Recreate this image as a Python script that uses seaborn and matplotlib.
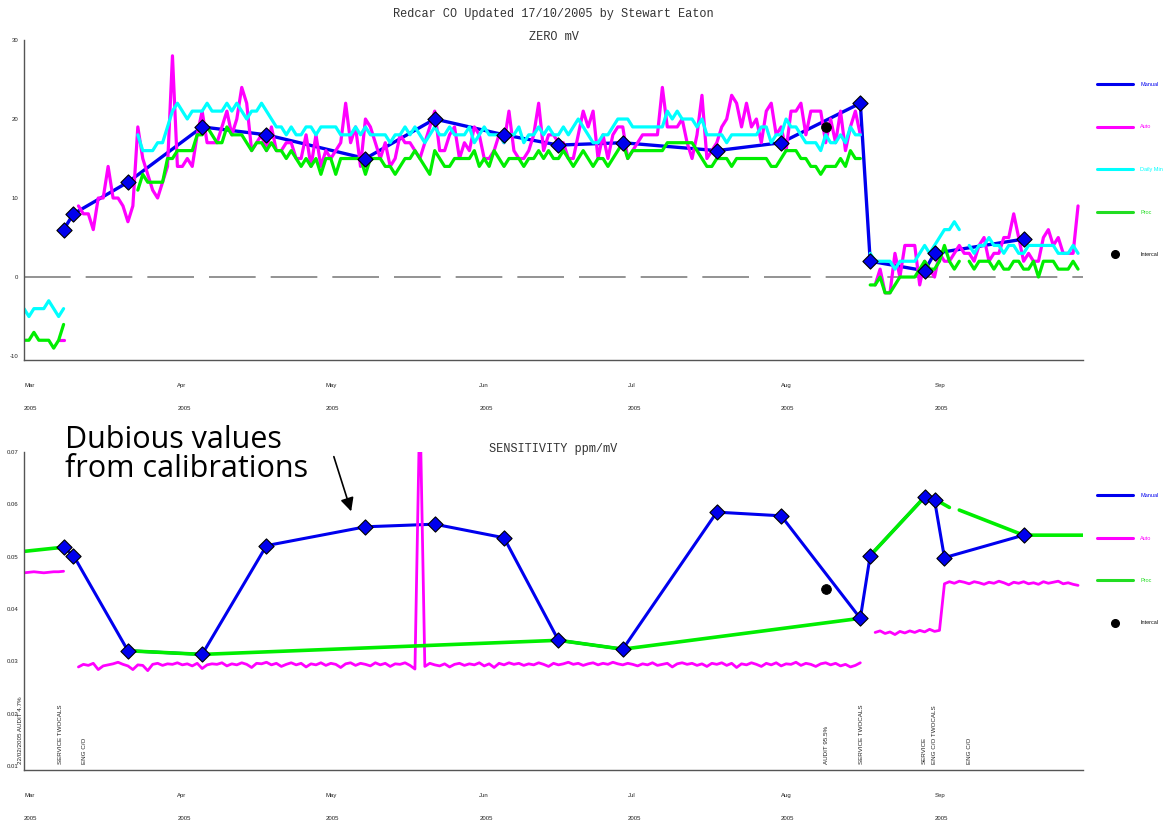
import pandas as pd
import matplotlib
matplotlib.use('Agg')
import matplotlib.pyplot as plt
from matplotlib.lines import Line2D
import seaborn as sns

BLUE = '#0000ee'
MAGENTA = '#ff00ff'
CYAN = '#00ffff'
GREEN = '#00ee00'

# ---------------- ZERO mV ----------------
zero_manual_dates = ['2005-03-09', '2005-03-11', '2005-03-22', '2005-04-06', '2005-04-19', '2005-05-09',
                     '2005-05-23', '2005-06-06', '2005-06-17', '2005-06-30', '2005-07-19', '2005-08-01',
                     '2005-08-17', '2005-08-19', '2005-08-30', '2005-09-01', '2005-09-19']
zero_manual = [6, 8, 12, 19, 18, 15, 20, 18, 16.7, 17, 16, 17, 22, 2, 0.8, 3, 4.8]
zero_intercal_dates = ['2005-08-10']
zero_intercal = [19]

# daily values, one (first day, values) pair per unbroken run
zero_auto = [
    ('2005-03-08', [-8, -8]),
    ('2005-03-12', [9, 8, 8, 6, 10, 10, 14, 10, 10, 9, 7, 9, 19, 15, 13, 11, 10, 12, 14, 28,
                    14, 14, 15, 14, 18, 21, 17, 17, 17, 19, 21, 18, 20, 24, 22, 16, 17, 18, 16, 19,
                    16, 16, 17, 17, 15, 15, 18, 14, 18, 14, 16, 15, 16, 17, 22, 17, 19, 14, 20, 19,
                    17, 15, 17, 14, 15, 18, 17, 17, 16, 15, 17, 19, 21, 16, 16, 18, 19, 15, 17, 16,
                    19, 18, 15, 15, 16, 18, 17, 21, 16, 15, 15, 16, 18, 22, 16, 18, 18, 17, 17, 15,
                    15, 18, 21, 19, 21, 15, 18, 15, 18, 19, 19, 15, 16, 17, 18, 18, 18, 18, 24, 19,
                    19, 19, 20, 17, 15, 18, 23, 15, 16, 17, 19, 20, 23, 22, 19, 22, 19, 20, 17, 21,
                    22, 18, 19, 16, 21, 21, 22, 18, 21, 21, 21, 17, 20, 17, 21, 16, 19, 21, 18]),
    ('2005-08-20', [-1, 1, -2, -2, 3, 0, 4, 4, 4, -1, 2, 1, 0, 3, 2, 2, 3, 4, 3, 3,
                    2, 4, 5, 2, 3, 3, 5, 5, 8, 5, 2, 3, 2, 2, 5, 6, 4, 5, 3, 3, 3, 9]),
]
zero_dailymin = [
    ('2005-03-01', [-4, -5, -4, -4, -4, -3, -4, -5, -4]),
    ('2005-03-24', [18, 16, 16, 16, 17, 17, 19, 21, 22, 21, 20, 21, 21, 21, 22, 21, 21, 21, 22, 21,
                    22, 21, 20, 21, 21, 22, 21, 20, 19, 19, 18, 19, 18, 18, 19, 19, 18, 19, 19, 19,
                    19, 18, 18, 18, 19, 18, 19, 18, 18, 18, 18, 17, 18, 18, 19, 18, 19, 18, 17, 18,
                    19, 18, 18, 19, 18, 18, 18, 19, 17, 18, 19, 18, 18, 18, 17, 18, 18, 19, 17, 18,
                    18, 19, 18, 19, 18, 18, 19, 18, 19, 20, 19, 18, 17, 17, 18, 18, 19, 20, 20, 20,
                    19, 19, 19, 19, 19, 19, 19, 21, 20, 21, 20, 20, 20, 19, 20, 18, 18, 18, 18, 17,
                    18, 18, 18, 18, 18, 18, 19, 19, 17, 18, 18, 20, 19, 19, 18, 17, 17, 17, 16, 18,
                    17, 17, 18, 17, 19, 18, 18]),
    ('2005-08-19', [3, 2, 2, 2, 2, 1, 2, 2, 2, 2, 3, 4, 3, 4, 5, 6, 6, 7, 6]),
    ('2005-09-08', [4, 3, 4, 4, 5, 4, 4, 3, 4, 4, 3, 3, 4, 4, 4, 4, 4, 4, 3, 3, 3, 4, 3]),
]
zero_proc = [
    ('2005-03-01', [-8, -8, -7, -8, -8, -8, -9, -8, -6]),
    ('2005-03-24', [11, 13, 12, 12, 12, 12, 15, 15, 16, 16, 16, 16, 18, 18, 19, 18, 17, 17, 19, 18,
                    18, 18, 17, 16, 17, 17, 16, 17, 16, 16, 15, 16, 15, 14, 15, 14, 15, 13, 15, 15,
                    13, 15, 15, 15, 15, 15, 13, 15, 15, 15, 14, 14, 13, 14, 15, 15, 16, 15, 14, 13,
                    16, 15, 14, 14, 15, 15, 15, 15, 16, 14, 15, 14, 16, 15, 14, 15, 15, 15, 14, 15,
                    15, 16, 15, 16, 15, 15, 16, 15, 14, 15, 16, 15, 14, 15, 15, 14, 15, 16, 17, 15,
                    16, 16, 16, 16, 16, 16, 16, 17, 17, 17, 17, 17, 17, 16, 15, 14, 14, 15, 15, 15,
                    14, 15, 15, 15, 15, 15, 15, 15, 14, 14, 15, 16, 16, 16, 15, 15, 14, 14, 13, 14,
                    14, 14, 15, 14, 16, 15, 15]),
    ('2005-08-19', [-1, -1, 0, -2, -2, -1, 0, 0, 0, 0, 1, 2, 1, 1, 2, 4, 2, 1, 2]),
    ('2005-09-08', [2, 1, 2, 2, 2, 1, 2, 1, 1, 2, 2, 1, 1, 2, 0, 2, 2, 2, 1, 1, 1, 2, 1]),
]

# ---------------- SENSITIVITY ppm/mV ----------------
sens_manual_dates = ['2005-03-09', '2005-03-11', '2005-03-22', '2005-04-06', '2005-04-19', '2005-05-09',
                     '2005-05-23', '2005-06-06', '2005-06-17', '2005-06-30', '2005-07-19', '2005-08-01',
                     '2005-08-17', '2005-08-19', '2005-08-30', '2005-09-01', '2005-09-03', '2005-09-19']
sens_manual = [0.0518, 0.0502, 0.0320, 0.0313, 0.0521, 0.0557, 0.0562, 0.0536, 0.0340, 0.0323,
               0.0585, 0.0578, 0.0382, 0.0502, 0.0614, 0.0608, 0.0498, 0.0541]
sens_intercal_dates = ['2005-08-10']
sens_intercal = [0.0438]
sens_auto = [
    ('2005-03-01', [0.0469, 0.0470, 0.0471, 0.0470, 0.0469, 0.0470, 0.0471, 0.0471, 0.0472]),
    ('2005-03-12', [0.0289, 0.0294, 0.0292, 0.0296, 0.0284, 0.0291, 0.0293, 0.0295, 0.0298, 0.0294,
                    0.0291, 0.0284, 0.0293, 0.0292, 0.0282, 0.0294, 0.0296, 0.0292, 0.0295, 0.0294,
                    0.0297, 0.0293, 0.0295, 0.0291, 0.0296, 0.0286, 0.0293, 0.0295, 0.0294, 0.0297,
                    0.0291, 0.0295, 0.0293, 0.0297, 0.0294, 0.0288, 0.0296, 0.0295, 0.0298, 0.0293,
                    0.0296, 0.0290, 0.0294, 0.0297, 0.0293, 0.0296, 0.0289, 0.0295, 0.0293, 0.0297,
                    0.0292, 0.0296, 0.0294, 0.0288, 0.0295, 0.0297, 0.0292, 0.0296, 0.0294, 0.0291,
                    0.0297, 0.0293, 0.0296, 0.0290, 0.0295, 0.0294, 0.0297, 0.0292, 0.0285, 0.0800,
                    0.0290, 0.0296, 0.0293, 0.0291, 0.0295, 0.0289, 0.0294, 0.0296, 0.0292, 0.0295,
                    0.0293, 0.0297, 0.0291, 0.0295, 0.0288, 0.0296, 0.0293, 0.0297, 0.0294, 0.0296,
                    0.0292, 0.0295, 0.0293, 0.0297, 0.0294, 0.0290, 0.0296, 0.0293, 0.0295, 0.0298,
                    0.0294, 0.0296, 0.0292, 0.0295, 0.0297, 0.0293, 0.0296, 0.0294, 0.0298, 0.0295,
                    0.0293, 0.0296, 0.0294, 0.0291, 0.0295, 0.0293, 0.0297, 0.0292, 0.0294, 0.0296,
                    0.0289, 0.0295, 0.0297, 0.0294, 0.0296, 0.0292, 0.0295, 0.0290, 0.0296, 0.0294,
                    0.0297, 0.0292, 0.0296, 0.0288, 0.0295, 0.0293, 0.0297, 0.0294, 0.0290, 0.0296,
                    0.0293, 0.0297, 0.0291, 0.0295, 0.0294, 0.0298, 0.0292, 0.0296, 0.0294, 0.0290,
                    0.0295, 0.0297, 0.0293, 0.0296, 0.0291, 0.0294, 0.0289, 0.0292, 0.0297]),
    ('2005-08-20', [0.0355, 0.0358, 0.0353, 0.0356, 0.0351, 0.0357, 0.0354, 0.0358, 0.0355, 0.0359,
                    0.0356, 0.0361, 0.0357, 0.0359,
                    0.0448, 0.0452, 0.0449, 0.0453, 0.0451, 0.0448, 0.0452, 0.0450, 0.0447, 0.0451,
                    0.0449, 0.0453, 0.0450, 0.0446, 0.0451, 0.0449, 0.0452, 0.0448, 0.0450, 0.0447,
                    0.0452, 0.0449, 0.0451, 0.0453, 0.0448, 0.0450, 0.0447, 0.0445]),
]
# processed sensitivity: straight runs between calibration days
sens_proc = [
    (['2005-03-01', '2005-03-09'], [0.0510, 0.0518]),
    (['2005-03-22', '2005-04-06', '2005-06-17', '2005-06-30', '2005-08-17'], [0.0320, 0.0313, 0.0340, 0.0323, 0.0382]),
    (['2005-08-19', '2005-08-30', '2005-09-01', '2005-09-04'], [0.0502, 0.0614, 0.0610, 0.0594]),
    (['2005-09-06', '2005-09-19', '2005-10-01'], [0.0589, 0.0541, 0.0541]),
]

event_dates = ['2005-02-28 05:00', '2005-03-08 07:00', '2005-03-13 07:00', '2005-08-10 05:00',
               '2005-08-17 05:00', '2005-08-30 00:00', '2005-09-01 00:00', '2005-09-08 02:00']
event_labels = ['22/02/2005 AUDIT 4.7%', 'SERVICE TWOCALS', 'ENG C/O', 'AUDIT 95.5%',
                'SERVICE TWOCALS', 'SERVICE', 'ENG C/O TWOCALS', 'ENG C/O']

month_ticks = ['2005-03-01', '2005-04-01', '2005-05-01', '2005-06-01', '2005-07-01', '2005-08-01', '2005-09-01']
month_labels = ['Mar\n2005', 'Apr\n2005', 'May\n2005', 'Jun\n2005', 'Jul\n2005', 'Aug\n2005', 'Sep\n2005']
zero_yticks = [-10, 0, 10, 20, 30]
sens_yticks = [0.01, 0.02, 0.03, 0.04, 0.05, 0.06, 0.07]


def daily_runs(runs):
    frames = []
    for i, (start, vals) in enumerate(runs):
        frames.append(pd.DataFrame({'date': pd.date_range(start, periods=len(vals), freq='D'),
                                    'value': vals, 'run': i}))
    return pd.concat(frames, ignore_index=True)


def dated_runs(runs):
    frames = []
    for i, (dates, vals) in enumerate(runs):
        frames.append(pd.DataFrame({'date': pd.to_datetime(dates), 'value': vals, 'run': i}))
    return pd.concat(frames, ignore_index=True)


def draw_runs(ax, df, color, lw):
    sns.lineplot(data=df, x='date', y='value', units='run', estimator=None, sort=False,
                 color=color, lw=lw, ax=ax, legend=False)


def draw_manual(ax, dates, vals, lw):
    df = pd.DataFrame({'date': pd.to_datetime(dates), 'value': vals})
    sns.lineplot(data=df, x='date', y='value', color=BLUE, lw=lw, ax=ax, zorder=2)
    return df


def draw_points(ax, man_df, ic_dates, ic_vals):
    sns.scatterplot(data=man_df, x='date', y='value', marker='D', s=60, color=BLUE,
                    edgecolor='black', linewidth=0.8, ax=ax, zorder=6, legend=False)
    ic = pd.DataFrame({'date': pd.to_datetime(ic_dates), 'value': ic_vals})
    sns.scatterplot(data=ic, x='date', y='value', s=50, color='black', edgecolor='black',
                    ax=ax, zorder=6, legend=False)


def style_axis(ax, ylim, yticks, ylabels):
    ax.set_xlim(pd.Timestamp('2005-03-01'), pd.Timestamp('2005-10-01'))
    ax.set_ylim(*ylim)
    ax.set_xticks(pd.to_datetime(month_ticks))
    ax.set_xticklabels(month_labels, ha='left', fontsize=4.3, color='#222222', linespacing=5.6)
    ax.set_yticks(yticks)
    ax.set_yticklabels(ylabels, fontsize=4.3, color='#222222')
    ax.tick_params(axis='x', length=6, width=1, color='#333333', pad=10.5)
    ax.tick_params(axis='y', length=3, width=0.8, color='#333333', pad=1)
    for s in ['top', 'right']:
        ax.spines[s].set_visible(False)
    for s in ['left', 'bottom']:
        ax.spines[s].set_color('#555555')
        ax.spines[s].set_linewidth(1.0)
    ax.set_xlabel('')
    ax.set_ylabel('')


def add_legend(ax, names, colors, anchor):
    handles = []
    for n, c in zip(names, colors):
        if n == 'Intercal':
            handles.append(Line2D([], [], ls='none', marker='o', color='black', markersize=5.5))
        else:
            handles.append(Line2D([], [], color=c, lw=2.2))
    leg = ax.legend(handles, names, loc='upper left', bbox_to_anchor=anchor, bbox_transform=ax.figure.transFigure,
                    frameon=False, fontsize=4, labelspacing=6.75, handlelength=6.5, handletextpad=1.3,
                    borderpad=0, borderaxespad=0)
    for t, c in zip(leg.get_texts(), colors):
        t.set_color(c)


sns.set_style('white')
plt.rcParams['font.family'] = ['Liberation Sans', 'DejaVu Sans']

W, H = 1166, 821
fig = plt.figure(figsize=(W / 100, H / 100), dpi=100)
ax1 = fig.add_axes([24 / W, 1 - 360 / H, 1059 / W, 320 / H])
ax2 = fig.add_axes([24 / W, 1 - 770 / H, 1059 / W, 318 / H])

mono = ['Liberation Mono', 'DejaVu Sans Mono']
fig.text(553 / W, 1 - 14 / H, 'Redcar CO Updated 17/10/2005 by Stewart Eaton', family=mono,
         fontsize=8.6, color='#333333', ha='center', va='center')

# ---- top panel
ax1.axhline(0, color='#808080', lw=1.2, dashes=(28, 9), zorder=1)
man1 = draw_manual(ax1, zero_manual_dates, zero_manual, 2.4)
draw_runs(ax1, daily_runs(zero_auto), MAGENTA, 2.3)
draw_runs(ax1, daily_runs(zero_dailymin), CYAN, 2.3)
draw_runs(ax1, daily_runs(zero_proc), GREEN, 2.3)
draw_points(ax1, man1, zero_intercal_dates, zero_intercal)
style_axis(ax1, (-10.5, 30), zero_yticks, [str(v) for v in zero_yticks])
ax1.set_title('ZERO mV', family=mono, fontsize=8.6, color='#333333', pad=0)
ax1.title.set_position((0.5, 1 + 1 / 320))
add_legend(ax1, ['Manual', 'Auto', 'Daily Min', 'Proc', 'Intercal'],
           [BLUE, MAGENTA, CYAN, '#22dd22', '#111111'], (1097 / W, 1 - 82 / H))

# ---- bottom panel
man2 = draw_manual(ax2, sens_manual_dates, sens_manual, 2.2)
draw_runs(ax2, daily_runs(sens_auto), MAGENTA, 2.0)
draw_runs(ax2, dated_runs(sens_proc), GREEN, 2.6)
draw_points(ax2, man2, sens_intercal_dates, sens_intercal)
style_axis(ax2, (0.0092, 0.07), sens_yticks, ['%.2f' % v for v in sens_yticks])
ax2.set_title('SENSITIVITY ppm/mV', family=mono, fontsize=8.6, color='#333333', pad=0)
ax2.title.set_position((0.5, 1 + 1 / 318))
add_legend(ax2, ['Manual', 'Auto', 'Proc', 'Intercal'],
           [BLUE, MAGENTA, '#22dd22', '#111111'], (1097 / W, 1 - 493 / H))

for d, lab in zip(pd.to_datetime(event_dates), event_labels):
    ax2.text(d, 0.02, lab, rotation=90, fontsize=4.5, ha='center', va='bottom', color='#222222',
             transform=ax2.get_xaxis_transform(), clip_on=False)

fig.text(65 / W, 1 - 425 / H, 'Dubious values\nfrom calibrations', family=['Open Sans', 'DejaVu Sans'],
         fontsize=22, color='black', ha='left', va='top', linespacing=0.95)
ax2.annotate('', xy=(352 / W, 1 - 514 / H), xytext=(333 / W, 1 - 454 / H),
             xycoords='figure fraction', textcoords='figure fraction',
             arrowprops=dict(arrowstyle='-|>', color='black', lw=1.2, mutation_scale=20))

fig.savefig('out.png', dpi=100)
